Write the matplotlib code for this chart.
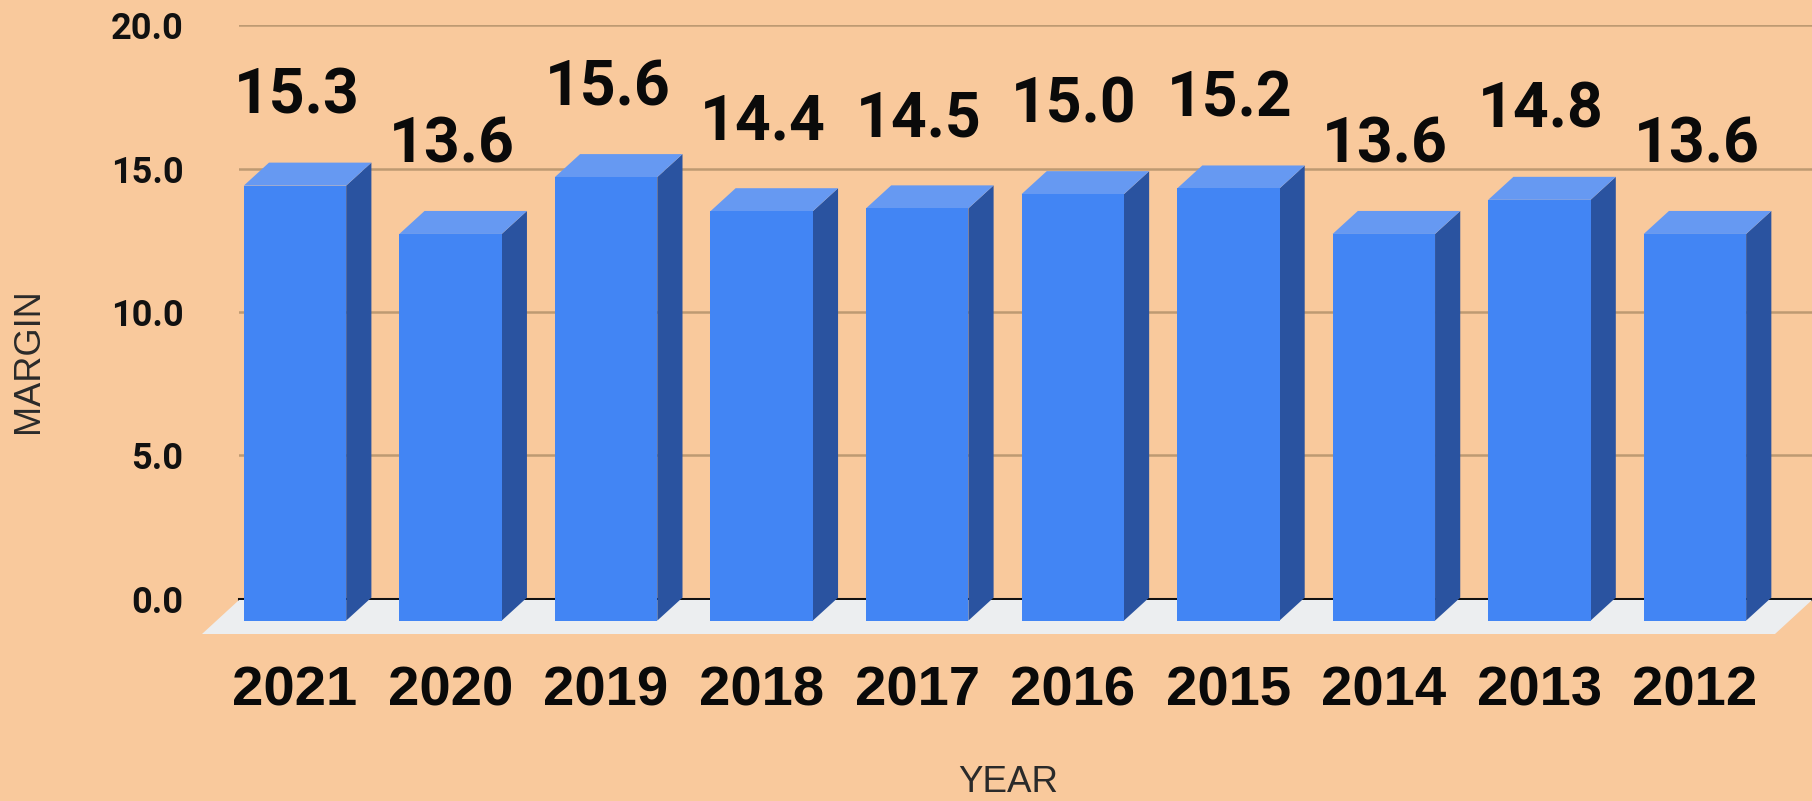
import matplotlib
matplotlib.use("Agg")
import matplotlib.pyplot as plt
from matplotlib.patches import Polygon

years = ["2021", "2020", "2019", "2018", "2017", "2016", "2015", "2014", "2013", "2012"]
margins = [15.3, 13.6, 15.6, 14.4, 14.5, 15.0, 15.2, 13.6, 14.8, 13.6]
y_ticks = [0, 5, 10, 15, 20]

W, H = 1812, 801
BG = "#F9C99C"
FRONT = "#4285F4"
TOP = "#6699F2"
SIDE = "#2A53A0"
FLOOR = "#ECEEF0"
GRID = "#BE9A72"


def box(left, top, right, bottom):
    """Convert pixel edges (origin top-left) to a figure-fraction rectangle."""
    return [left / W, 1 - bottom / H, (right - left) / W, (bottom - top) / H]


fig = plt.figure(figsize=(W / 100, H / 100), dpi=100, facecolor=BG)

# Back wall: gridlines and value axis
ax_back = fig.add_axes(box(239, 25.4, 1812, 598.6), zorder=1)
ax_back.set_facecolor("none")
ax_back.set_ylim(0, 20)
ax_back.set_xlim(0, 1)
ax_back.set_xticks([])
ax_back.set_yticks(y_ticks)
ax_back.set_yticklabels([f"{t:.1f}" for t in y_ticks], family="Roboto",
                        fontsize=26, fontweight="bold", color="#111111")
ax_back.tick_params(axis="y", length=0, pad=40)
for spine in ax_back.spines.values():
    spine.set_visible(False)
for t in y_ticks[1:]:
    ax_back.axhline(t, color=GRID, lw=1.8)
ax_back.axhline(0, color="#111111", lw=2.2, clip_on=False)

# Floor of the 3D scene
floor_px = [(202, 634), (1775, 634), (1812, 600), (239, 600)]
fig.add_artist(Polygon([(x / W, 1 - y / H) for x, y in floor_px],
                       closed=True, transform=fig.transFigure,
                       facecolor=FLOOR, edgecolor="none", zorder=1.5))

# Front plane: bars and category labels
front_bottom = 620.6
px_per_unit = 28.43
slot = 155.55
center0 = 295.0
ax = fig.add_axes(box(center0 - slot / 2, front_bottom - 20 * px_per_unit,
                      center0 + 9.5 * slot, front_bottom), zorder=2)
ax.set_facecolor("none")
ax.set_xlim(-0.5, 9.5)
ax.set_ylim(0, 20)
for spine in ax.spines.values():
    spine.set_visible(False)
ax.set_yticks([])
ax.set_xticks(range(len(years)))
ax.set_xticklabels(years, family="Liberation Sans", fontsize=40.5,
                   fontweight="bold", color="#0a0a0a")
ax.tick_params(axis="x", length=0, pad=32)

bar_w = 102.4 / slot
dx = 25.2 / slot
dy = 23.0 / px_per_unit
for i, v in enumerate(margins):
    l, r = i - bar_w / 2, i + bar_w / 2
    ax.add_patch(Polygon([(r, 0), (r + dx, dy), (r + dx, v + dy), (r, v)],
                         closed=True, facecolor=SIDE, edgecolor="none", clip_on=False))
    ax.add_patch(Polygon([(l, v), (r, v), (r + dx, v + dy), (l + dx, v + dy)],
                         closed=True, facecolor=TOP, edgecolor="none", clip_on=False))
    ax.bar(i, v, width=bar_w, color=FRONT, linewidth=0, clip_on=False)
    ax.annotate(f"{v:.1f}", xy=(i, v), xytext=(1, 64), textcoords="offset points",
                ha="center", va="center", family="Roboto", fontsize=45,
                fontweight="bold", color="#0a0a0a", annotation_clip=False)

# Axis titles
fig.text(29 / W, 1 - 361 / H, "MARGIN", rotation=90, ha="center", va="center",
         family="Liberation Sans", fontsize=26, color="#2a2a2a")
fig.text(1008 / W, 1 - 792.5 / H, "YEAR", ha="center", va="baseline",
         family="Liberation Sans", fontsize=26.5, color="#2a2a2a")

fig.savefig("out.png", dpi=100, facecolor=BG)
